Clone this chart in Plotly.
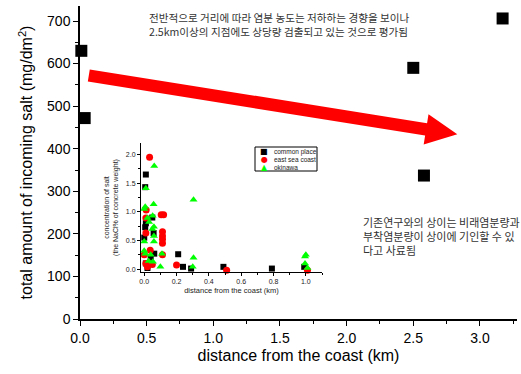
import plotly.graph_objects as go
import math

# ---------------- data ----------------
main_x = [0.01, 0.035, 2.50, 2.58, 3.17]
main_y = [630, 472, 590, 337, 706]

cp_x = [0.01, 0.006, 0.01, 0.006, 0.0, 0.05, 0.058, 0.062, 0.04, 0.01, 0.02, 0.21, 0.24, 0.29, 0.49, 0.79, 0.99]
cp_y = [1.65, 1.43, 0.80, 0.73, 0.55, 0.90, 0.63, 0.27, 0.20, 0.10, 0.02, 0.26, 0.04, 0.01, 0.04, 0.01, 0.04]

es_x = [0.033, 0.012, 0.01, 0.01, 0.105, 0.12, 0.113, 0.113, 0.113, 0.113, 0.113, 0.037, 0.01, 0.05, 0.20, 0.51, 1.01, 0.02, 0.0]
es_y = [1.95, 1.03, 0.89, 0.63, 0.95, 0.95, 0.65, 0.58, 0.52, 0.45, 0.25, 0.33, 0.10, 0.08, 0.07, -0.02, -0.02, 0.04, 0.25]

ok_x = [0.062, 0.01, 0.006, 0.0, 0.058, 0.052, 0.03, 0.05, 0.06, 0.06, 0.06, 0.0, 0.0, 0.006, 0.04, 0.027, 0.054, 0.11, 0.10, 0.305, 0.305, 0.30, 1.0, 0.995, 0.995, 1.01, 0.02]
ok_y = [1.80, 1.41, 1.09, 1.05, 1.13, 0.93, 0.82, 0.70, 0.74, 0.58, 0.48, 0.48, 0.32, 0.27, 0.25, 0.14, 0.13, 0.27, 0.04, 1.21, 0.20, 0.04, 0.25, 0.22, 0.10, 0.02, 0.89]

legend_names = ["common place", "east sea coast", "okinawa"]
legend_colors = ["#000000", "#ff0000", "#00ff00"]
legend_glyphs = ["■", "●", "▲"]

note_top = ["전반적으로 거리에 따라 염분 농도는 저하하는 경향을 보이나",
            "2.5km이상의 지점에도 상당량 검출되고 있는 것으로 평가됨"]
note_right = ["기존연구와의 상이는 비래염분량과",
              "부착염분량이 상이에 기인할 수 있",
              "다고 사료됨"]

# ---------------- layout geometry ----------------
W, H = 521, 374
ML, MR, MT, MB = 80, 4, 6, 55
PW, PH = W - ML - MR, H - MT - MB
XMAX = 3.278
YMAX = 735.3


def pxp(px, py):
    """pixel -> paper (plot area) coordinates"""
    return (px - ML) / PW, (H - MB - py) / PH


def pxd(px, py):
    """pixel -> main data coordinates"""
    return (px - ML) / PW * XMAX, (H - MB - py) / PH * YMAX


font_main = "Liberation Sans, Arial, sans-serif"
font_kr = "Noto Sans CJK KR, sans-serif"

fig = go.Figure()

fig.add_trace(go.Scatter(x=main_x, y=main_y, mode="markers",
                         marker=dict(symbol="square", size=12, color="black"),
                         cliponaxis=False, showlegend=False))

fig.add_trace(go.Scatter(x=cp_x, y=cp_y, xaxis="x2", yaxis="y2", mode="markers",
                         marker=dict(symbol="square", size=6, color="black"),
                         cliponaxis=False, showlegend=False))
fig.add_trace(go.Scatter(x=es_x, y=es_y, xaxis="x2", yaxis="y2", mode="markers",
                         marker=dict(symbol="circle", size=7, color="#ff0000"),
                         cliponaxis=False, showlegend=False))
fig.add_trace(go.Scatter(x=ok_x, y=ok_y, xaxis="x2", yaxis="y2", mode="markers",
                         marker=dict(symbol="triangle-up", size=7, color="#00ff00"),
                         cliponaxis=False, showlegend=False))

# ---------------- arrow ----------------
T = (88.8, 75.5)
P = (457.3, 134.3)
dx, dy = P[0] - T[0], P[1] - T[1]
Ln = math.hypot(dx, dy)
u = (dx / Ln, dy / Ln)
n = (-u[1], u[0])
w, h, L = 6.2, 15.3, 31.6
B = (P[0] - L * u[0], P[1] - L * u[1])
pts_px = [
    (T[0] - w * n[0], T[1] - w * n[1]),
    (B[0] - w * n[0], B[1] - w * n[1]),
    (B[0] - h * n[0], B[1] - h * n[1]),
    P,
    (B[0] + h * n[0], B[1] + h * n[1]),
    (B[0] + w * n[0], B[1] + w * n[1]),
    (T[0] + w * n[0], T[1] + w * n[1]),
]
pts = [pxd(*p) for p in pts_px]
path = "M " + " L ".join(f"{x:.4f},{y:.3f}" for x, y in pts) + " Z"

shapes = [dict(type="path", xref="x", yref="y", path=path,
               fillcolor="#ff0000", line=dict(width=0), layer="above")]

# inset legend box
lx0, ly0 = pxp(255, 147)
lx1, ly1 = pxp(317, 171)
shapes.append(dict(type="rect", xref="paper", yref="paper", x0=lx0, y0=ly1, x1=lx1, y1=ly0,
                   line=dict(color="black", width=1), fillcolor="white", layer="above"))

annotations = []
rows_y = [152, 160, 167]
for name, col, g, ry in zip(legend_names, legend_colors, legend_glyphs, rows_y):
    sx, sy = pxp(264, ry)
    annotations.append(dict(xref="paper", yref="paper", x=sx, y=sy, text=g, showarrow=False,
                            font=dict(size=8, color=col, family="DejaVu Sans"),
                            xanchor="center", yanchor="middle"))
    tx, ty = pxp(272, ry)
    annotations.append(dict(xref="paper", yref="paper", x=tx, y=ty, text=name, showarrow=False,
                            font=dict(size=6.5, color="#222", family=font_main),
                            xanchor="left", yanchor="middle"))

for i, line in enumerate(note_top):
    ax, ay = pxp(147, 17 + 14 * i)
    annotations.append(dict(xref="paper", yref="paper", x=ax, y=ay, text=line, showarrow=False,
                            font=dict(size=10.6, color="#333", family=font_kr),
                            xanchor="left", yanchor="middle", align="left"))
for i, line in enumerate(note_right):
    bx, by = pxp(361, 222 + 14 * i)
    annotations.append(dict(xref="paper", yref="paper", x=bx, y=by, text=line, showarrow=False,
                            font=dict(size=11, color="#333", family=font_kr),
                            xanchor="left", yanchor="middle", align="left"))

ix0, iy0 = pxp(141, 272)
ix1, iy1 = pxp(322, 143)

fig.update_layout(
    width=W, height=H,
    margin=dict(l=ML, r=MR, t=MT, b=MB, pad=0, autoexpand=False),
    paper_bgcolor="white", plot_bgcolor="white",
    showlegend=False,
    font=dict(family=font_main, color="black"),
    shapes=shapes,
    annotations=annotations,
    xaxis=dict(range=[0, XMAX], domain=[0, 1], showgrid=False, zeroline=False, automargin=False,
               showline=True, linecolor="black", linewidth=1.5,
               ticks="outside", ticklen=5, tickwidth=1.2, tickcolor="black",
               dtick=0.5, tick0=0, tickformat=".1f",
               minor=dict(dtick=0.25, ticks="outside", ticklen=3, tickcolor="black"),
               tickfont=dict(size=14, color="black"),
               title=dict(text="distance from the coast (km)", font=dict(size=16), standoff=5)),
    yaxis=dict(range=[0, YMAX], domain=[0, 1], showgrid=False, zeroline=False, automargin=False,
               showline=True, linecolor="black", linewidth=1.5,
               ticks="outside", ticklen=5, tickwidth=1.2, tickcolor="black",
               dtick=100, tick0=0,
               minor=dict(dtick=50, ticks="outside", ticklen=3, tickcolor="black"),
               tickfont=dict(size=14, color="black"),
               title=dict(text="total amount of incoming salt (mg/dm<sup>2</sup>)", font=dict(size=16), standoff=10)),
    xaxis2=dict(range=[-0.02, 1.1], domain=[ix0, ix1], anchor="y2", showgrid=False, zeroline=False,
                automargin=False,
                showline=True, linecolor="black", linewidth=1,
                ticks="outside", ticklen=3, tickwidth=1, tickcolor="black",
                dtick=0.2, tick0=0, tickformat=".1f",
                minor=dict(dtick=0.1, ticks="outside", ticklen=2, tickcolor="black"),
                tickfont=dict(size=7, color="#222"),
                title=dict(text="distance from the coast (km)", font=dict(size=7.5, color="#222"), standoff=3)),
    yaxis2=dict(range=[-0.05, 2.2], domain=[iy0, iy1], anchor="x2", showgrid=False, zeroline=False,
                automargin=False,
                showline=True, linecolor="black", linewidth=1,
                ticks="outside", ticklen=3, tickwidth=1, tickcolor="black",
                dtick=0.5, tick0=0, tickformat=".1f",
                minor=dict(dtick=0.25, ticks="outside", ticklen=2, tickcolor="black"),
                tickfont=dict(size=7, color="#222"),
                title=dict(text="concentration of salt<br>(the NaCl% of concrete weight)",
                           font=dict(size=7, color="#222"), standoff=6)),
)

fig.write_html("out.html", config={"displayModeBar": False},
               post_script="document.body.style.margin='0';document.body.style.overflow='hidden';")
